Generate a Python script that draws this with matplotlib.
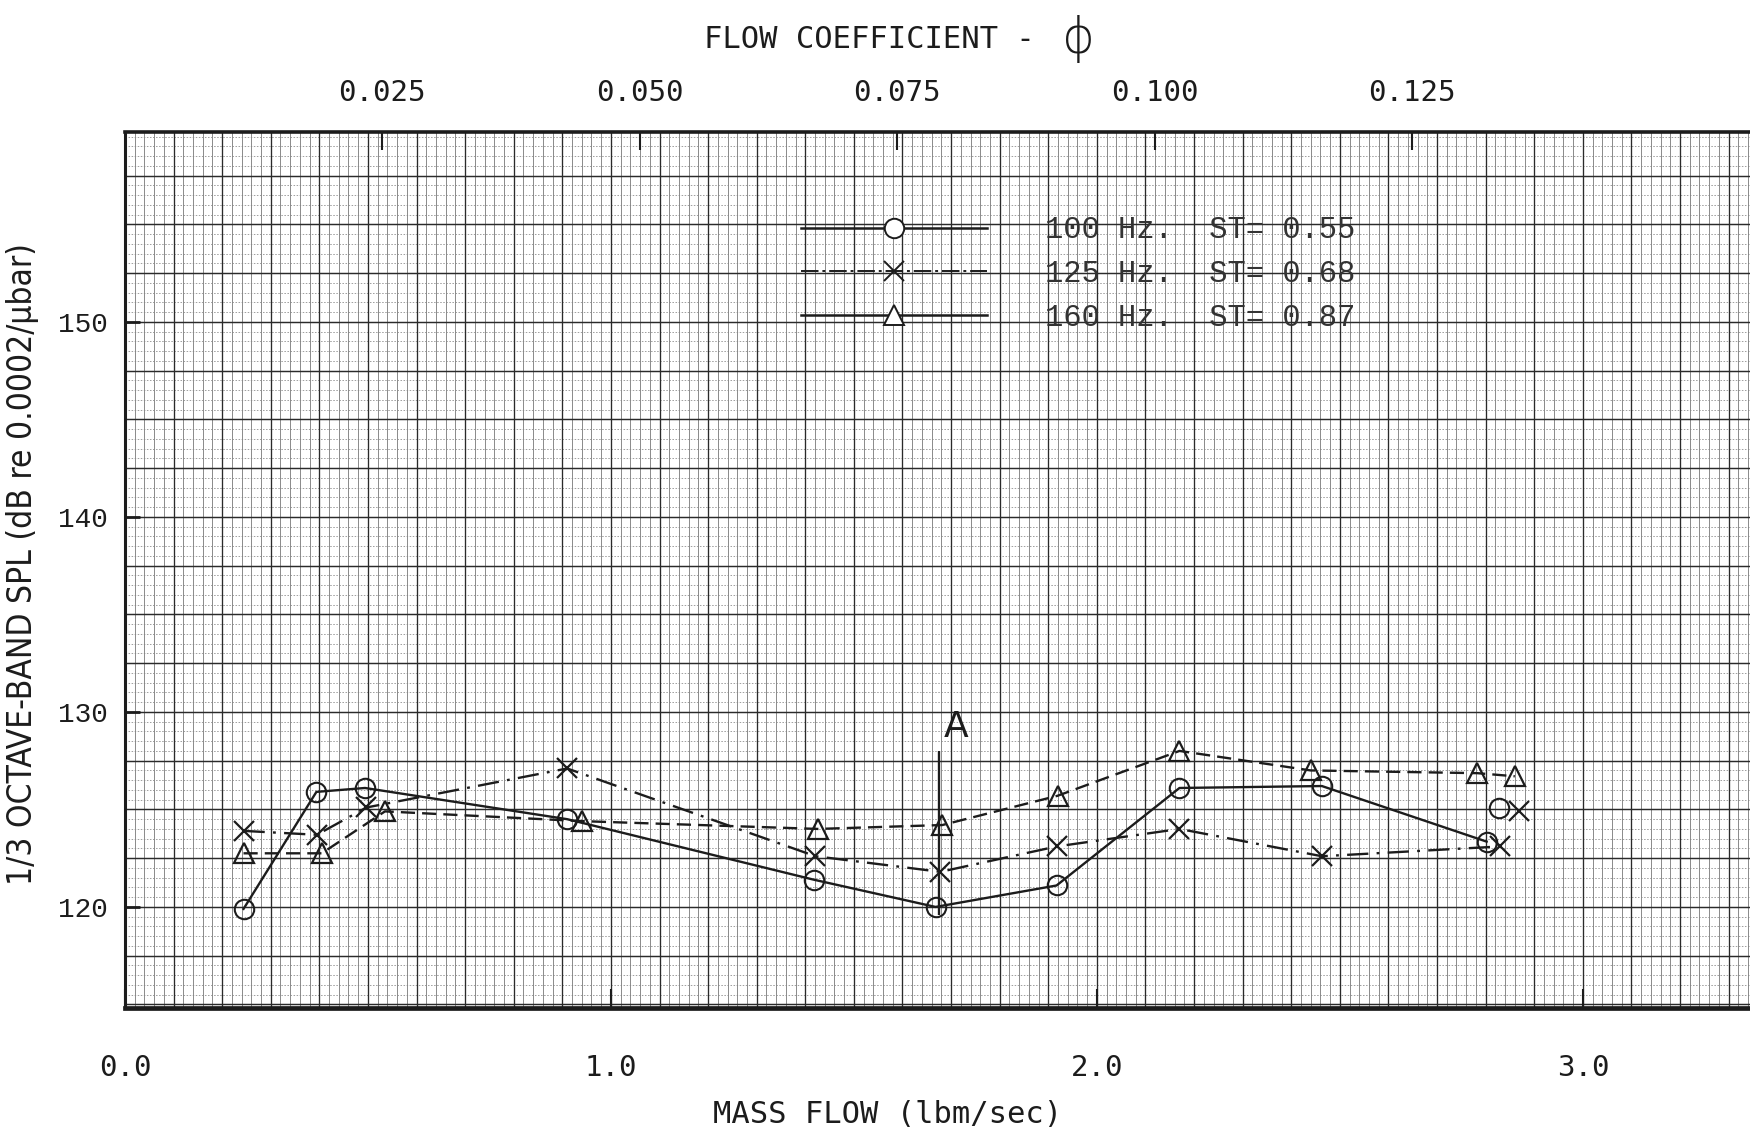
import matplotlib.pyplot as plt
import numpy as np
from matplotlib.lines import Line2D

# 100 Hz band (circles, solid line)
mass_flow_100 = [0.244, 0.394, 0.494, 0.910, 1.417, 1.668, 1.917, 2.170, 2.463, 2.802]
spl_100 = [119.9, 125.9, 126.1, 124.5, 121.4, 120.0, 121.1, 126.1, 126.2, 123.35]

# 125 Hz band (crosses, dash-dot line)
mass_flow_125 = [0.244, 0.395, 0.497, 0.910, 1.421, 1.678, 1.917, 2.170, 2.463, 2.829]
spl_125 = [123.9, 123.7, 125.1, 127.1, 122.6, 121.8, 123.1, 124.0, 122.6, 123.1]

# 160 Hz band (triangles, dashed line)
mass_flow_160 = [0.244, 0.405, 0.535, 0.940, 1.426, 1.682, 1.919, 2.170, 2.440, 2.783, 2.860]
spl_160 = [122.75, 122.75, 124.9, 124.4, 124.0, 124.2, 125.7, 128.0, 127.0, 126.86, 126.7]

# repeat run at the last flow setting, not joined to the curves
repeat_flow_100 = [2.828]
repeat_spl_100 = [125.06]
repeat_flow_125 = [2.869]
repeat_spl_125 = [124.9]

# operating point "A"
point_a_flow = 1.675
point_a_spl = [119.6, 128.0]

band_labels = ["100 Hz.  ST= 0.55", "125 Hz.  ST= 0.68", "160 Hz.  ST= 0.87"]

mass_flow_ticks = [0.0, 1.0, 2.0, 3.0]
spl_ticks = [120, 130, 140, 150]
phi_ticks = [0.025, 0.050, 0.075, 0.100, 0.125]

PHI_PER_FLOW = 0.0472
X_MAX = 3.344
Y_MIN, Y_MAX = 114.82, 159.74

MONO = "Liberation Mono"
SANS_MONO = "DejaVu Sans Mono"
INK = "#1c1c1c"


def to_phi(m):
    return np.asarray(m) * PHI_PER_FLOW


def to_flow(p):
    return np.asarray(p) / PHI_PER_FLOW


def graph_paper(ax):
    # fine rulings: 0.02 lbm/sec by 0.5 dB, heavier every 0.1 lbm/sec and 2.5 dB
    fine_x = np.arange(0.0, X_MAX, 0.02)
    fine_y = np.arange(115.0, Y_MAX, 0.5)
    ax.vlines(fine_x, Y_MIN, Y_MAX, color="#5c5c5c", lw=0.5, zorder=0)
    ax.hlines(fine_y, 0, X_MAX, color="#858585", lw=0.55, linestyles=(0, (2.0, 2.0)), zorder=0)
    major_x = np.arange(0.0, X_MAX, 0.1)
    major_y = np.arange(115.0, Y_MAX, 2.5)
    ax.vlines(major_x, Y_MIN, Y_MAX, color="#2a2a2a", lw=0.95, zorder=0.5)
    ax.hlines(major_y, 0, X_MAX, color="#2a2a2a", lw=1.05, zorder=0.5)


def main():
    fig = plt.figure(figsize=(17.5, 11.31), dpi=100)
    ax = fig.add_axes([0.0714, 0.1088, 0.9286, 0.7745])
    ax.set_xlim(0, X_MAX)
    ax.set_ylim(Y_MIN, Y_MAX)

    graph_paper(ax)

    ax.plot(mass_flow_100, spl_100, color=INK, lw=1.7, marker="o", ms=14,
            mfc="none", mec=INK, mew=1.5, zorder=3)
    ax.plot(mass_flow_125, spl_125, color=INK, lw=1.7, ls=(0, (9, 3.5, 1.2, 3.5)),
            marker="x", ms=14, mec=INK, mew=1.6, zorder=3)
    ax.plot(mass_flow_160, spl_160, color=INK, lw=1.7, ls=(0, (6, 3)),
            marker="^", ms=15, mfc="none", mec=INK, mew=1.6, zorder=3)
    ax.plot(repeat_flow_100, repeat_spl_100, ls="none", marker="o", ms=14,
            mfc="none", mec=INK, mew=1.5, zorder=3)
    ax.plot(repeat_flow_125, repeat_spl_125, ls="none", marker="x", ms=14,
            mec=INK, mew=1.6, zorder=3)

    ax.vlines(point_a_flow, point_a_spl[0], point_a_spl[1], color=INK, lw=1.7, zorder=3)
    ax.text(point_a_flow + 0.035, point_a_spl[1] + 1.25, "A", fontsize=26,
            family="DejaVu Sans", color=INK, ha="center", va="center")

    # legend lines run through the symbols like the typed key on the sheet
    handles = [
        Line2D([], [], color=INK, lw=1.8, marker="o", ms=14, mfc="white", mec=INK, mew=1.4),
        Line2D([], [], color=INK, lw=1.4, ls=(0, (9, 2, 1.5, 2)), marker="x", ms=14, mec=INK, mew=1.4),
        Line2D([], [], color=INK, lw=1.8, marker="^", ms=15, mfc="white", mec=INK, mew=1.4),
    ]
    leg = ax.legend(handles, band_labels, loc="upper left", bbox_to_anchor=(0.416, 0.905),
                    frameon=False, handlelength=6.1, handletextpad=1.9, labelspacing=0.45,
                    borderpad=0, borderaxespad=0, numpoints=1,
                    prop={"family": MONO, "size": 22})
    for t in leg.get_texts():
        t.set_color("#333333")

    for side in ["left", "top", "bottom"]:
        ax.spines[side].set_color(INK)
    ax.spines["left"].set_linewidth(2.2)
    ax.spines["top"].set_linewidth(2.6)
    ax.spines["bottom"].set_linewidth(3.4)
    ax.spines["right"].set_visible(False)

    ax.set_xticks(mass_flow_ticks)
    ax.set_xticklabels([f"{v:.1f}" for v in mass_flow_ticks], family=SANS_MONO, fontsize=21, color=INK)
    ax.tick_params(axis="x", direction="in", length=14, width=1.5, pad=33, color=INK)
    ax.set_yticks(spl_ticks)
    ax.set_yticklabels([str(v) for v in spl_ticks], family=MONO, fontsize=20, color=INK)
    ax.tick_params(axis="y", direction="in", length=11, width=2.0, pad=12, color=INK)

    top = ax.secondary_xaxis("top", functions=(to_phi, to_flow))
    top.set_xticks(phi_ticks)
    top.set_xticklabels([f"{v:.3f}" for v in phi_ticks], family=SANS_MONO, fontsize=21, color=INK)
    top.tick_params(axis="x", direction="in", length=13, width=1.5, pad=18, color=INK)
    top.spines["top"].set_visible(False)

    fig.text(0.497, 0.9655, "FLOW COEFFICIENT -", family=SANS_MONO, fontsize=22,
             color=INK, ha="center", va="center")
    fig.text(0.616, 0.9655, "ϕ", family="DejaVu Sans", fontsize=36, fontweight="light",
             color=INK, ha="center", va="center")
    fig.text(0.507, 0.015, "MASS FLOW (lbm/sec)", family=SANS_MONO, fontsize=22,
             color=INK, ha="center", va="center")
    fig.text(0.0126, 0.501, "1/3 OCTAVE-BAND SPL (dB re 0.0002/μbar)", family="DejaVu Sans",
             fontstretch="condensed", fontsize=24, color=INK, rotation=90,
             ha="center", va="center")

    fig.savefig("out.png", dpi=100)
    plt.close(fig)


if __name__ == "__main__":
    main()
